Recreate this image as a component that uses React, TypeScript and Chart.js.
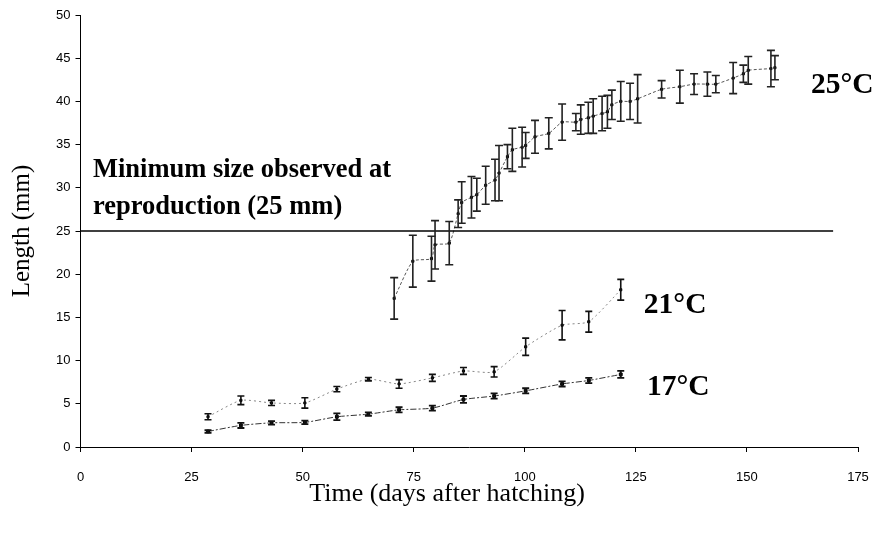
import React, { useEffect, useRef } from "react";
import { Chart, registerables } from "chart.js";

Chart.register(...registerables);

// ---- data ----
const xTickValues = [0, 25, 50, 75, 100, 125, 150, 175];
const yTickValues = [0, 5, 10, 15, 20, 25, 30, 35, 40, 45, 50];

const days25 = [70.6, 74.8, 79.0, 79.8, 83.0, 85.0, 85.8, 88.0, 89.2, 91.2, 93.3, 94.2, 96.1, 97.2, 99.4, 100.2, 102.3, 105.4, 108.4, 111.5, 112.6, 114.3, 115.4, 117.4, 118.6, 119.6, 121.6, 123.7, 125.4, 130.8, 134.9, 138.1, 141.1, 143.0, 146.9, 149.2, 150.3, 155.4, 156.3];
const len25 = [17.2, 21.5, 21.8, 23.4, 23.6, 27.0, 28.3, 28.9, 29.2, 30.3, 30.9, 31.7, 33.6, 34.4, 34.7, 34.9, 35.9, 36.3, 37.6, 37.6, 37.9, 38.1, 38.3, 38.6, 38.8, 39.6, 40.0, 40.0, 40.3, 41.4, 41.7, 42.0, 42.0, 42.0, 42.7, 43.2, 43.6, 43.8, 43.9];
const err25 = [2.4, 3.0, 2.6, 2.8, 2.5, 1.6, 2.4, 2.4, 1.9, 2.2, 2.4, 3.2, 1.4, 2.5, 2.3, 1.5, 1.9, 1.8, 2.1, 1.0, 1.7, 1.8, 2.0, 2.0, 1.9, 1.7, 2.3, 2.1, 2.8, 1.0, 1.9, 1.2, 1.4, 1.0, 1.8, 1.0, 1.6, 2.1, 1.4];

const days21 = [28.7, 36.1, 43.0, 50.5, 57.7, 64.8, 71.7, 79.2, 86.2, 93.1, 100.2, 108.4, 114.4, 121.6];
const len21 = [3.5, 5.4, 5.1, 5.1, 6.7, 7.85, 7.3, 8.0, 8.8, 8.7, 11.6, 14.1, 14.5, 18.2];
const err21 = [0.35, 0.5, 0.3, 0.6, 0.3, 0.2, 0.5, 0.4, 0.4, 0.6, 1.0, 1.7, 1.2, 1.2];

const days17 = [28.7, 36.1, 43.0, 50.5, 57.7, 64.8, 71.7, 79.2, 86.2, 93.1, 100.2, 108.4, 114.4, 121.6];
const len17 = [1.8, 2.5, 2.8, 2.85, 3.5, 3.8, 4.3, 4.5, 5.5, 5.9, 6.5, 7.3, 7.7, 8.4];
const err17 = [0.15, 0.3, 0.2, 0.2, 0.4, 0.2, 0.3, 0.3, 0.4, 0.3, 0.3, 0.3, 0.3, 0.4];

const refLineDays = [0, 169.4];
const refLineValue = 25;

const seriesNames = ["25°C", "21°C", "17°C"];
const annotationLines = ["Minimum size observed at", "reproduction (25 mm)"];
const xTitle = "Time (days after hatching)";
const yTitle = "Length (mm)";

// label anchors in data units (day, mm)
const seriesLabelAnchors = [
  [164.4, 41.8],
  [126.8, 16.4],
  [127.5, 6.9],
];
const annotationAnchors = [
  [2.8, 32.0],
  [2.8, 27.8],
];

const toPoints = (xs: number[], ys: number[]) => xs.map((x, i) => ({ x, y: ys[i] }));

const errorBarPlugin = {
  id: "errorBars",
  afterDatasetsDraw(chart: any) {
    const { ctx, scales } = chart;
    const xs = scales.x;
    const ys = scales.y;
    chart.data.datasets.forEach((ds: any) => {
      if (!ds.errors) return;
      ctx.save();
      ctx.strokeStyle = ds.errColor || "#111";
      ctx.lineWidth = ds.errWidth || 1.5;
      const cap = ds.capHalf || 4;
      ds.data.forEach((p: any, j: number) => {
        const e = ds.errors[j];
        const px = xs.getPixelForValue(p.x);
        const top = ys.getPixelForValue(p.y + e);
        const bot = ys.getPixelForValue(p.y - e);
        ctx.beginPath();
        ctx.moveTo(px, top);
        ctx.lineTo(px, bot);
        ctx.moveTo(px - cap, top);
        ctx.lineTo(px + cap, top);
        ctx.moveTo(px - cap, bot);
        ctx.lineTo(px + cap, bot);
        ctx.stroke();
      });
      ctx.restore();
    });
  },
};

const textPlugin = {
  id: "texts",
  afterDraw(chart: any) {
    const { ctx, scales } = chart;
    const xs = scales.x;
    const ys = scales.y;
    ctx.save();
    ctx.fillStyle = "#000";
    ctx.textBaseline = "middle";
    ctx.textAlign = "left";
    ctx.font = "bold 29.5px 'Liberation Serif'";
    seriesNames.forEach((name, i) => {
      const [d, v] = seriesLabelAnchors[i];
      ctx.fillText(name, xs.getPixelForValue(d), ys.getPixelForValue(v));
    });
    ctx.font = "bold 26.5px 'Liberation Serif'";
    annotationLines.forEach((t, i) => {
      const [d, v] = annotationAnchors[i];
      ctx.fillText(t, xs.getPixelForValue(d), ys.getPixelForValue(v));
    });
    // x axis title
    ctx.font = "26px 'Liberation Serif'";
    ctx.textAlign = "center";
    ctx.fillText(xTitle, 447, 494);
    ctx.restore();
  },
};

export default function App() {
  const canvasRef = useRef<HTMLCanvasElement | null>(null);

  useEffect(() => {
    document.body.style.margin = "0";
    const canvas = canvasRef.current;
    if (!canvas) return;
    const chart = new Chart(canvas, {
      type: "line",
      data: {
        datasets: [
          {
            label: "ref",
            data: refLineDays.map((d) => ({ x: d, y: refLineValue })),
            borderColor: "#000",
            borderWidth: 1.5,
            pointRadius: 0,
          },
          {
            label: seriesNames[0],
            data: toPoints(days25, len25),
            borderColor: "#555",
            borderWidth: 1,
            borderDash: [3, 2],
            tension: 0.2,
            pointStyle: "rect",
            pointRadius: 1.5,
            pointBackgroundColor: "#000",
            pointBorderColor: "#000",
            errors: err25,
            errWidth: 1.6,
            capHalf: 4,
            errColor: "#222",
          } as any,
          {
            label: seriesNames[1],
            data: toPoints(days21, len21),
            borderColor: "#888",
            borderWidth: 1,
            borderDash: [2, 3],
            tension: 0.2,
            pointStyle: "rect",
            pointRadius: 1.5,
            pointBackgroundColor: "#000",
            pointBorderColor: "#000",
            errors: err21,
            errWidth: 1.6,
            capHalf: 3.5,
            errColor: "#111",
          } as any,
          {
            label: seriesNames[2],
            data: toPoints(days17, len17),
            borderColor: "#333",
            borderWidth: 1,
            borderDash: [6, 2, 2, 2],
            tension: 0.2,
            pointStyle: "rect",
            pointRadius: 2,
            pointBackgroundColor: "#000",
            pointBorderColor: "#000",
            errors: err17,
            errWidth: 1.8,
            capHalf: 3.5,
            errColor: "#111",
          } as any,
        ],
      },
      options: {
        animation: false,
        responsive: false,
        maintainAspectRatio: false,
        layout: { padding: { top: 15, right: 32, left: 0, bottom: 0 } },
        plugins: { legend: { display: false }, tooltip: { enabled: false } },
        scales: {
          x: {
            type: "linear",
            min: 0,
            max: 175,
            afterBuildTicks: (scale: any) => {
              scale.ticks = xTickValues.map((v) => ({ value: v }));
            },
            afterFit: (scale: any) => {
              scale.height = 86;
            },
            grid: { display: true, drawOnChartArea: false, drawTicks: true, tickLength: 5, color: "#000", lineWidth: 1 },
            border: { display: true, color: "#000", width: 1 },
            ticks: { color: "#000", padding: 18, font: { family: "'Liberation Sans'", size: 13 }, maxRotation: 0 },
            title: { display: false },
          },
          y: {
            type: "linear",
            min: 0,
            max: 50,
            afterBuildTicks: (scale: any) => {
              scale.ticks = yTickValues.map((v) => ({ value: v }));
            },
            afterFit: (scale: any) => {
              scale.width = 80.5;
            },
            grid: { display: true, drawOnChartArea: false, drawTicks: true, tickLength: 5, color: "#000", lineWidth: 1 },
            border: { display: true, color: "#000", width: 1 },
            ticks: { color: "#000", padding: 5, font: { family: "'Liberation Sans'", size: 13 } },
            title: {
              display: true,
              text: yTitle,
              color: "#000",
              font: { family: "'Liberation Serif'", size: 25 },
              padding: { top: 7, bottom: 0 },
            },
          },
        },
      } as any,
      plugins: [errorBarPlugin, textPlugin],
    });
    return () => chart.destroy();
  }, []);

  return (
    <div style={{ width: 890, height: 533, background: "#fff" }}>
      <canvas ref={canvasRef} width={890} height={533} style={{ width: 890, height: 533, display: "block" }} />
    </div>
  );
}
